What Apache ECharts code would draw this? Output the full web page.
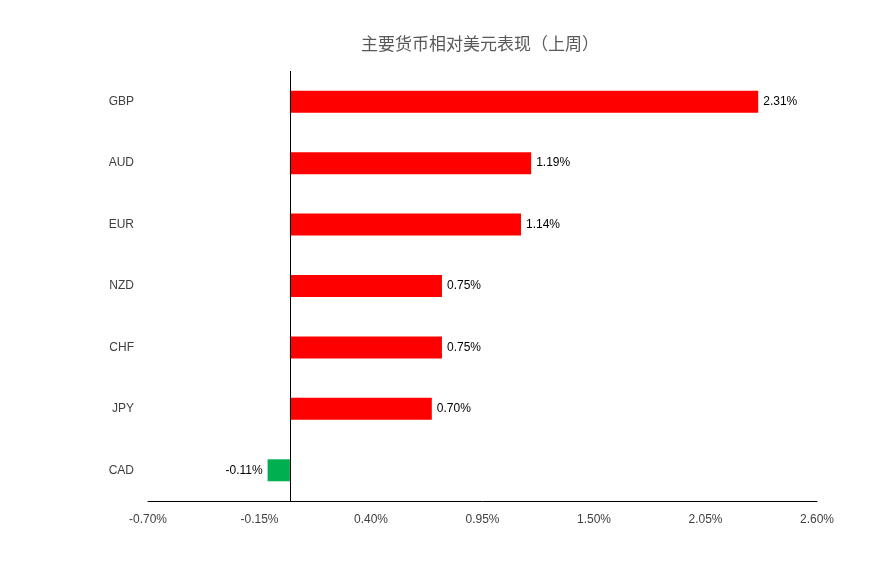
<!DOCTYPE html>
<html><head><meta charset="utf-8">
<script src="https://cdn.jsdelivr.net/npm/echarts@6/dist/echarts.min.js"></script>
<style>html,body{margin:0;background:#fff}#c{width:888px;height:568px}</style>
</head><body><div id="c"></div>
<script>
const categories = ['CAD','JPY','CHF','NZD','EUR','AUD','GBP'];
const values = [-0.11,0.70,0.75,0.75,1.14,1.19,2.31];
const chart = echarts.init(document.getElementById('c'));
chart.setOption({
  title:{text:'主要货币相对美元表现（上周）',left:475,textAlign:'center',top:30,textStyle:{fontSize:17,fontWeight:'normal',color:'#595959',fontFamily:'Noto Sans CJK SC'}},
  grid:{left:148,right:71,top:71,bottom:67},
  xAxis:{type:'value',min:-0.7,max:2.6,interval:0.55,splitLine:{show:false},
    axisLine:{show:true,lineStyle:{color:'#000'}},axisTick:{show:false},
    axisLabel:{color:'#404040',fontSize:12,margin:13,formatter:v=>v.toFixed(2)+'%'}},
  yAxis:{type:'category',data:categories,axisLine:{onZero:false,show:false},axisTick:{show:false},
    axisLabel:{color:'#404040',fontSize:12,margin:14}},
  series:[{type:'bar',barWidth:22,
    data:values.map(v=>({value:v,itemStyle:{color:v<0?'#00B050':'#FF0000'},
      label:{show:true,position:v<0?'left':'right',distance:5,color:'#000',fontSize:12,formatter:v.toFixed(2)+'%'}})),
    markLine:{silent:true,symbol:'none',label:{show:false},lineStyle:{color:'#000',type:'solid',width:1},data:[{xAxis:0}]}
  }]
});
</script></body></html>
